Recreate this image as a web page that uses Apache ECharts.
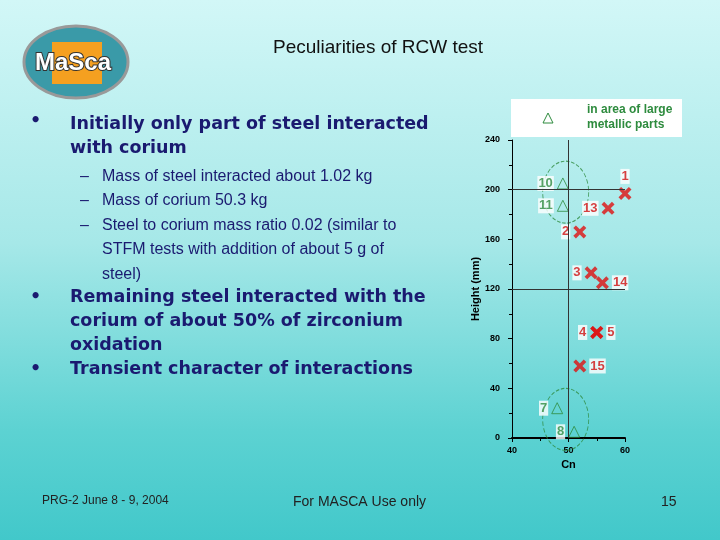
<!DOCTYPE html>
<html><head><meta charset="utf-8">
<script src="https://cdn.jsdelivr.net/npm/echarts@6/dist/echarts.min.js"></script>
<style>
html,body{margin:0;padding:0;}
#c{width:720px;height:540px;background:linear-gradient(180deg,#d2f7f7 0%,#a6e8e8 45%,#5cd2d2 80%,#42c8ca 100%);}
</style></head><body><div id="c"></div>
<script>
const crossPts = [[60,197,'1'],[57,185,'13'],[52,166,'2'],[54,133,'3'],[56,125,'14'],[55,85,'4'],[55,85,'5'],[52,58,'15']];
const crossLabelPos = ['top','left','left','left','right','left','right','right'];
const triPts = [[49,205,'10'],[49,187,'11'],[48,24,'7'],[51,5,'8']];
const circles = [[49.5,198],[49.5,15]];
const xTicks = [40,50,60];
const yTicks = [0,40,80,120,160,200,240];

const chart = echarts.init(document.getElementById('c'));
const lbl = (pos, col) => ({show:true, position:pos, formatter:p=>p.value[2], color:col, fontFamily:'Liberation Sans', fontWeight:'bold', fontSize:13, backgroundColor:'#fff', padding:[1,1], distance:3});
const B = 'bold 17.5px DejaVu Sans', C = '#1a1a70';
chart.setOption({
  backgroundColor:'transparent',
  animation:false,
  grid:{left:512, top:140, width:113, height:298},
  xAxis:{type:'value', min:40, max:60, interval:10, name:'Cn', nameLocation:'middle', nameGap:20,
    nameTextStyle:{fontFamily:'Liberation Sans',fontWeight:'bold',fontSize:11,color:'#000'},
    axisLine:{onZero:false,lineStyle:{color:'#000',width:2}}, axisTick:{inside:false,length:4,lineStyle:{color:'#000'}},
    minorTick:{show:true,splitNumber:2,length:3,lineStyle:{color:'#000'}},
    axisLabel:{fontFamily:'Liberation Sans',fontWeight:'bold',fontSize:9,color:'#000'}, splitLine:{show:false}},
  yAxis:{type:'value', min:0, max:240, interval:40, name:'Height (mm)', nameLocation:'middle', nameGap:30, nameRotate:90,
    nameTextStyle:{fontFamily:'Liberation Sans',fontWeight:'bold',fontSize:11,color:'#000'},
    axisLine:{show:true,lineStyle:{color:'#000',width:1}}, axisTick:{show:true,length:4,lineStyle:{color:'#000'}},
    minorTick:{show:true,splitNumber:2,length:3,lineStyle:{color:'#000'}},
    axisLabel:{fontFamily:'Liberation Sans',fontWeight:'bold',fontSize:9,color:'#000',margin:12}, splitLine:{show:false}},
  series:[
    {type:'line', data:[[50,0],[50,240]], symbol:'none', lineStyle:{color:'#333',width:1}, silent:true,
     markLine:{silent:true,symbol:'none',label:{show:false},lineStyle:{color:'#333',width:1,type:'solid'},data:[{yAxis:200},{yAxis:120}]}},
    {type:'scatter', data:circles, symbol:'circle', symbolSize:[46,62], itemStyle:{color:'transparent',borderColor:'#2e8b3e',borderType:'dashed',borderWidth:1}, silent:true},
    {type:'scatter', data:crossPts.map((p,i)=>({value:p,label:lbl(crossLabelPos[i],'#d01010')})),
     symbol:'path://M2,0L5,3L8,0L10,2L7,5L10,8L8,10L5,7L2,10L0,8L3,5L0,2Z', symbolSize:13, itemStyle:{color:'#e01010'}},
    {type:'scatter', data:triPts.map(p=>({value:p,label:lbl('left','#2e8b3e')})), symbol:'triangle', symbolSize:11,
     itemStyle:{color:'transparent',borderColor:'#2e8b3e',borderWidth:1}}
  ],
  graphic:[
    {type:'rect', shape:{x:511,y:99,width:171,height:38}, style:{fill:'#fff'}},
    {type:'polygon', shape:{points:[[543,123],[548,113],[553,123]]}, style:{fill:'none',stroke:'#2e8b3e',lineWidth:1}},
    {type:'text', left:587, top:102, style:{text:'in area of large\nmetallic parts', fill:'#2e8b3e', font:'bold 12px Liberation Sans', lineHeight:15}},
    {type:'text', left:273, top:38, style:{text:'Peculiarities of RCW test', fill:'#111', font:'19px Liberation Sans'}},
    {type:'ellipse', shape:{cx:76,cy:62,rx:52,ry:36}, style:{fill:'#3a9aa8',stroke:'#999',lineWidth:3}},
    {type:'rect', shape:{x:52,y:42,width:50,height:42}, style:{fill:'#f5a020'}},
    {type:'text', left:34, top:50, style:{text:'MaSca', fill:'#fff', stroke:'#333', lineWidth:2, font:'bold 24px Liberation Sans'}},
    {type:'text', left:30, top:112, style:{text:'•', fill:C, font:B}},
    {type:'text', left:70, top:112, style:{text:'Initially only part of steel interacted\nwith corium', fill:C, font:B, lineHeight:24}},
    {type:'text', left:80, top:164, style:{text:'–\n–\n–', fill:C, font:'16px Liberation Sans', lineHeight:24.5}},
    {type:'text', left:102, top:164, style:{text:'Mass of steel interacted about 1.02 kg\nMass of corium 50.3 kg\nSteel to corium mass ratio 0.02 (similar to\nSTFM tests with addition of about 5 g of\nsteel)', fill:C, font:'16px Liberation Sans', lineHeight:24.5}},
    {type:'text', left:30, top:285, style:{text:'•\n\n\n•', fill:C, font:B, lineHeight:24}},
    {type:'text', left:70, top:285, style:{text:'Remaining steel interacted with the\ncorium of about 50% of zirconium\noxidation\nTransient character of interactions', fill:C, font:B, lineHeight:24}},
    {type:'text', left:42, top:495, style:{text:'PRG-2 June 8 - 9, 2004', fill:'#222', font:'12px Liberation Sans'}},
    {type:'text', left:293, top:495, style:{text:'For MASCA Use only', fill:'#222', font:'14px Liberation Sans'}},
    {type:'text', left:661, top:495, style:{text:'15', fill:'#222', font:'14px Liberation Sans'}}
  ]
});
</script></body></html>
